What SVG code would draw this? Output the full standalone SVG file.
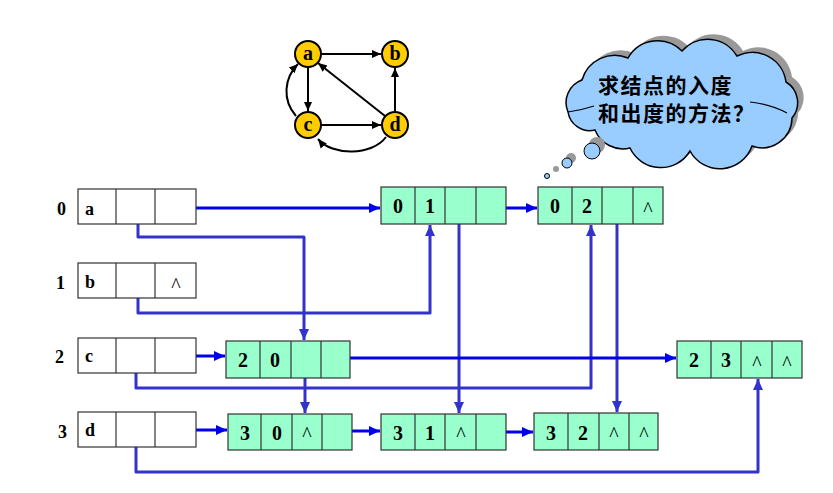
<svg xmlns="http://www.w3.org/2000/svg" width="833" height="493" viewBox="0 0 833 493">
<style>
.vx{fill:#ffffff;stroke:#333333;stroke-width:1.2}
.ac{fill:#99ffcc;stroke:#333333;stroke-width:1.2}
.dv{stroke:#333333;stroke-width:1.2}
.t{font-family:"Liberation Serif","Times New Roman",serif;font-weight:bold;font-size:20px;fill:#000;text-anchor:middle}
.tl{font-family:"Liberation Serif","Times New Roman",serif;font-weight:bold;font-size:18px;fill:#000}
.nil{font-family:"Liberation Serif","Times New Roman",serif;font-size:20px;fill:#000;text-anchor:middle}
.gn{fill:#ffcc00;stroke:#000;stroke-width:2}
.gt{font-family:"Liberation Serif","Times New Roman",serif;font-weight:bold;font-size:20px;fill:#000;text-anchor:middle}
.ge{fill:none;stroke:#000;stroke-width:2;marker-end:url(#ak)}
.hb{fill:none;stroke:#0000ee;stroke-width:3;marker-end:url(#ab)}
.lp{fill:none;stroke:#3333cc;stroke-width:3;stroke-linejoin:round;marker-end:url(#ap)}
.cj{font-family:"Noto Sans CJK SC","Noto Sans",sans-serif;font-weight:bold;font-size:21px;fill:#000;letter-spacing:1.5px}
</style>
<defs>
<marker id="ab" markerUnits="userSpaceOnUse" markerWidth="12" markerHeight="12" refX="11" refY="6" orient="auto"><path d="M0,1 L11,6 L0,11 z" fill="#0000ee"/></marker>
<marker id="ap" markerUnits="userSpaceOnUse" markerWidth="12" markerHeight="12" refX="11" refY="6" orient="auto"><path d="M0,1 L11,6 L0,11 z" fill="#3333cc"/></marker>
<marker id="ak" markerUnits="userSpaceOnUse" markerWidth="10" markerHeight="10" refX="9" refY="5" orient="auto"><path d="M0,1 L9,5 L0,9 z" fill="#000"/></marker>
<path id="cloud" d="M568,112 A24,24 0 0 1 582,80 A34,34 0 0 1 628,58 A34,34 0 0 1 682,51 A34,34 0 0 1 737,56 A34,34 0 0 1 786,82 A24,24 0 0 1 792,118 A30,30 0 0 1 752,146 A34,34 0 0 1 690,151 A34,34 0 0 1 630,148 A30,30 0 0 1 595,130 A22,22 0 0 1 568,112 z"/>
</defs>

<!-- small graph -->
<g id="graph-edges">
<path class="ge" d="M322,54 L381,54"/>
<path class="ge" d="M308,68 L308,111"/>
<path class="ge" d="M322,125 L381,125"/>
<path class="ge" d="M395,111 L395,68"/>
<path class="ge" d="M385,116 L318,63"/>
<path class="ge" d="M296,116 C282,100 284,78 298,64"/>
<path class="ge" d="M386,137 C372,156 332,156 318,139"/>
</g>
<g id="ga"><circle class="gn" cx="308" cy="54" r="13"/><text class="gt" x="308" y="60">a</text></g>
<g id="gb"><circle class="gn" cx="395" cy="54" r="13"/><text class="gt" x="395" y="60">b</text></g>
<g id="gc"><circle class="gn" cx="308" cy="125" r="13"/><text class="gt" x="308" y="131">c</text></g>
<g id="gd"><circle class="gn" cx="395" cy="125" r="13"/><text class="gt" x="395" y="131">d</text></g>

<!-- thought cloud -->
<g id="cloud-bubble">
<use href="#cloud" transform="translate(6,-5)" fill="#999999"/>
<use href="#cloud" fill="#99ccff" stroke="#000" stroke-width="1.5"/>
<path d="M568,112 Q582,110 594,106" fill="none" stroke="#000" stroke-width="1.2"/>
<path d="M750,102 Q770,104 787,113" fill="none" stroke="#000" stroke-width="1.2"/>
<circle cx="597" cy="145" r="8" fill="#999999"/>
<circle cx="592" cy="151" r="8" fill="#99ccff" stroke="#000" stroke-width="1"/>
<circle cx="571" cy="158" r="5" fill="#999999"/>
<circle cx="567" cy="163" r="5" fill="#99ccff" stroke="#000" stroke-width="1"/>
<circle cx="556" cy="169" r="3" fill="#999999"/>
<circle cx="547" cy="176" r="2.5" fill="#99ccff" stroke="#000" stroke-width="1"/>
<text class="cj" x="598" y="93">求结点的入度</text>
<text class="cj" x="598" y="121">和出度的方法？</text>
</g>

<!-- connectors -->
<g id="connectors">
<path class="lp" d="M138,212 L138,237 L304,237 L304,340"/>
<path class="lp" d="M138,285 L138,313 L430,313 L430,225"/>
<path class="lp" d="M459,212 L459,413"/>
<path class="lp" d="M617,212 L617,412"/>
<path class="lp" d="M136,363 L136,388 L591,388 L591,225"/>
<path class="lp" d="M305,365 L305,413"/>
<path class="lp" d="M136,436 L136,472 L758,472 L758,379"/>
<path class="hb" d="M188,208 L380,208"/>
<path class="hb" d="M495,208 L537,208"/>
<path class="hb" d="M188,356 L225,356"/>
<path class="hb" d="M340,358 L676,358"/>
<path class="hb" d="M188,430 L227,430"/>
<path class="hb" d="M340,431 L380,431"/>
<path class="hb" d="M493,432 L533,432"/>
</g>

<!-- vertex table -->
<g id="v0">
<text class="tl" x="57" y="215">0</text>
<rect class="vx" x="78" y="189" width="118" height="35"/>
<line class="dv" x1="116" y1="189" x2="116" y2="224"/><line class="dv" x1="155" y1="189" x2="155" y2="224"/>
<text class="tl" x="85" y="215">a</text>
</g>
<g id="v1">
<text class="tl" x="56" y="289">1</text>
<rect class="vx" x="78" y="263" width="118" height="35"/>
<line class="dv" x1="116" y1="263" x2="116" y2="298"/><line class="dv" x1="155" y1="263" x2="155" y2="298"/>
<text class="tl" x="85" y="288">b</text>
<text class="nil" x="176" y="292">^</text>
</g>
<g id="v2">
<text class="tl" x="55" y="363">2</text>
<rect class="vx" x="78" y="338" width="118" height="35"/>
<line class="dv" x1="116" y1="338" x2="116" y2="373"/><line class="dv" x1="155" y1="338" x2="155" y2="373"/>
<text class="tl" x="85" y="362">c</text>
</g>
<g id="v3">
<text class="tl" x="58" y="438">3</text>
<rect class="vx" x="78" y="412" width="118" height="35"/>
<line class="dv" x1="116" y1="412" x2="116" y2="447"/><line class="dv" x1="155" y1="412" x2="155" y2="447"/>
<text class="tl" x="85" y="436">d</text>
</g>

<!-- arc nodes -->
<g id="a01" transform="translate(381,187)">
<rect class="ac" width="125" height="37"/>
<line class="dv" x1="34" y1="0" x2="34" y2="37"/><line class="dv" x1="64" y1="0" x2="64" y2="37"/><line class="dv" x1="95" y1="0" x2="95" y2="37"/>
<text class="t" x="17" y="26">0</text><text class="t" x="49" y="26">1</text>
</g>
<g id="a02" transform="translate(538,187)">
<rect class="ac" width="125" height="37"/>
<line class="dv" x1="34" y1="0" x2="34" y2="37"/><line class="dv" x1="64" y1="0" x2="64" y2="37"/><line class="dv" x1="95" y1="0" x2="95" y2="37"/>
<text class="t" x="17" y="26">0</text><text class="t" x="49" y="26">2</text>
<text class="nil" x="110" y="29">^</text>
</g>
<g id="a20" transform="translate(226,341)">
<rect class="ac" width="124" height="37"/>
<line class="dv" x1="34" y1="0" x2="34" y2="37"/><line class="dv" x1="65" y1="0" x2="65" y2="37"/><line class="dv" x1="95" y1="0" x2="95" y2="37"/>
<text class="t" x="17" y="26">2</text><text class="t" x="49" y="26">0</text>
</g>
<g id="a23" transform="translate(677,341)">
<rect class="ac" width="125" height="37"/>
<line class="dv" x1="34" y1="0" x2="34" y2="37"/><line class="dv" x1="64" y1="0" x2="64" y2="37"/><line class="dv" x1="95" y1="0" x2="95" y2="37"/>
<text class="t" x="17" y="26">2</text><text class="t" x="49" y="26">3</text>
<text class="nil" x="80" y="29">^</text><text class="nil" x="110" y="29">^</text>
</g>
<g id="a30" transform="translate(228,414)">
<rect class="ac" width="124" height="36"/>
<line class="dv" x1="33" y1="0" x2="33" y2="36"/><line class="dv" x1="64" y1="0" x2="64" y2="36"/><line class="dv" x1="94" y1="0" x2="94" y2="36"/>
<text class="t" x="17" y="26">3</text><text class="t" x="49" y="26">0</text>
<text class="nil" x="79" y="27">^</text>
</g>
<g id="a31" transform="translate(381,414)">
<rect class="ac" width="125" height="36"/>
<line class="dv" x1="34" y1="0" x2="34" y2="36"/><line class="dv" x1="64" y1="0" x2="64" y2="36"/><line class="dv" x1="95" y1="0" x2="95" y2="36"/>
<text class="t" x="17" y="26">3</text><text class="t" x="49" y="26">1</text>
<text class="nil" x="80" y="27">^</text>
</g>
<g id="a32" transform="translate(534,413)">
<rect class="ac" width="124" height="37"/>
<line class="dv" x1="34" y1="0" x2="34" y2="37"/><line class="dv" x1="65" y1="0" x2="65" y2="37"/><line class="dv" x1="95" y1="0" x2="95" y2="37"/>
<text class="t" x="17" y="27">3</text><text class="t" x="49" y="27">2</text>
<text class="nil" x="80" y="28">^</text><text class="nil" x="110" y="28">^</text>
</g>
</svg>
